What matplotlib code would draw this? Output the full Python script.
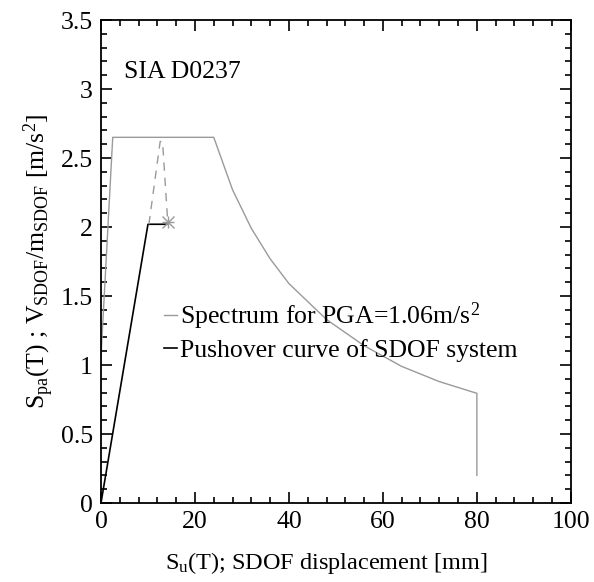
import matplotlib
matplotlib.use("Agg")
import matplotlib.pyplot as plt
from matplotlib.ticker import MultipleLocator

# --------------------------------------------------
# Data
# --------------------------------------------------
spec_x = [0.0, 2.5, 24.0, 28.0, 32.0, 36.0, 40.0, 48.0, 56.0, 64.0, 72.0, 80.0, 80.0]
spec_y = [1.06, 2.65, 2.65, 2.27, 1.99, 1.77, 1.59, 1.33, 1.14, 0.99, 0.88, 0.795, 0.2]

push_x = [0.0, 10.0, 14.0]
push_y = [0.0, 2.02, 2.02]

dash_x = [10.2, 12.6, 13.1, 14.2]
dash_y = [2.02, 2.62, 2.62, 2.04]

perf_x = [14.3]
perf_y = [2.04]

plt.rcParams["font.family"] = ["Liberation Serif", "DejaVu Serif"]
plt.rcParams["mathtext.fontset"] = "custom"
plt.rcParams["mathtext.rm"] = "Liberation Serif"
plt.rcParams["mathtext.it"] = "Liberation Serif"
plt.rcParams["font.size"] = 18.5

fig = plt.figure(figsize=(5.94, 5.82), dpi=100)
ax = fig.add_axes([0.170, 0.1357, 0.791, 0.8299])

gray = "#9a9a9a"
ax.plot(spec_x, spec_y, color=gray, lw=1.0, label=r"Spectrum for PGA=1.06m/s$^2$")
ax.plot(push_x, push_y, color="black", lw=1.2, label="Pushover curve of SDOF system")
ax.plot(dash_x, dash_y, color=gray, lw=1.0, ls=(0, (6, 5)))
ax.plot(perf_x, perf_y, ls="none", marker="x", ms=8, mew=1.0, color=gray)
ax.plot(perf_x, perf_y, ls="none", marker="+", ms=8, mew=1.0, color=gray)

ax.set_xlim(0, 100)
ax.set_ylim(0, 3.5)
ax.xaxis.set_major_locator(MultipleLocator(20))
ax.xaxis.set_minor_locator(MultipleLocator(4))
ax.yaxis.set_minor_locator(MultipleLocator(0.1))
ax.set_yticks([0, 0.5, 1, 1.5, 2, 2.5, 3, 3.5])
ax.set_yticklabels(["0", "0.5", "1", "1.5", "2", "2.5", "3", "3.5"])
ax.tick_params(which="both", direction="in", top=True, right=True, width=1.2)
ax.tick_params(which="major", length=8, pad=6)
ax.tick_params(which="minor", length=4)
for s in ax.spines.values():
    s.set_linewidth(1.3)

ax.set_xlabel(r"S$_\mathregular{u}$(T); SDOF displacement [mm]", labelpad=12,
              fontsize=17.5, x=0.48)
ax.set_ylabel(r"S$_\mathregular{pa}$(T) ; V$_\mathregular{SDOF}$/m$_\mathregular{SDOF}$ [m/s$^\mathregular{2}$]",
              labelpad=3)

ax.text(5.0, 3.12, "SIA D0237", ha="left", va="center")

ax.legend(loc="upper left", bbox_to_anchor=(0.113, 0.44), frameon=False,
          handlelength=0.5, handletextpad=0.1, borderaxespad=0, labelspacing=0.25)

fig.savefig("out.png", dpi=100)
